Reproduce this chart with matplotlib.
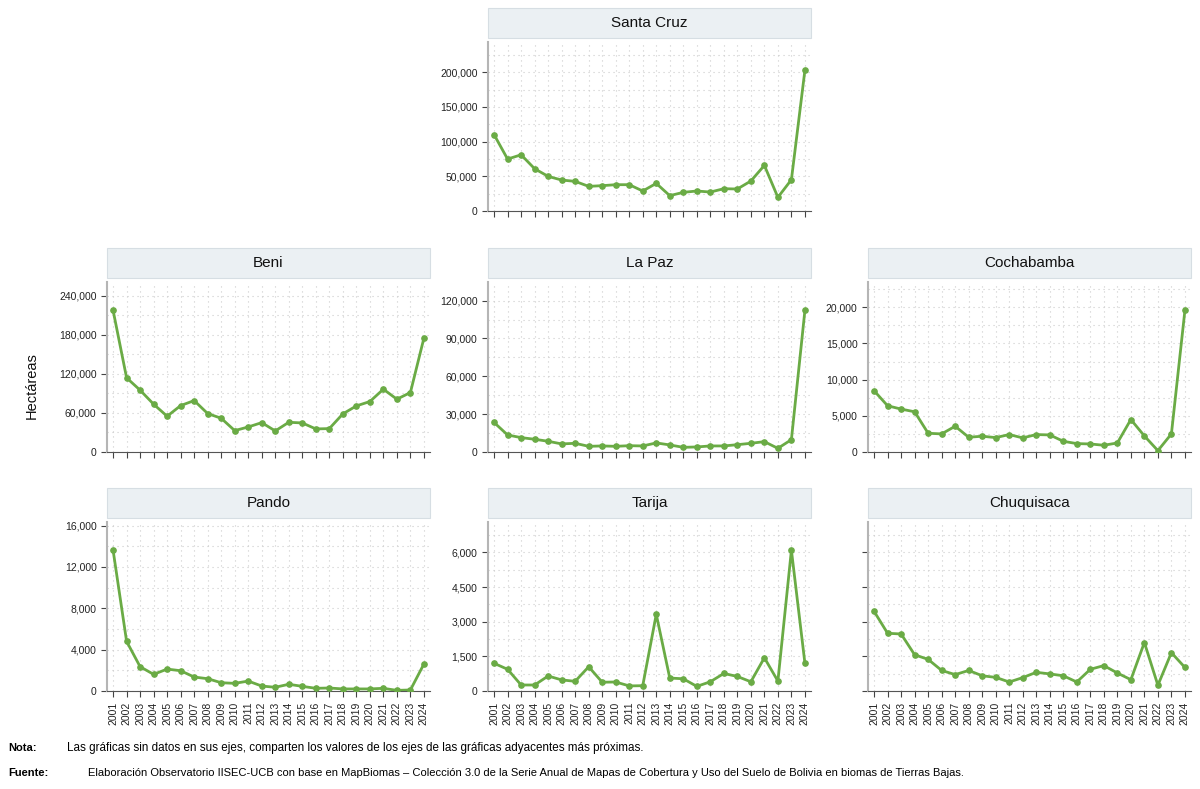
import matplotlib.pyplot as plt
import matplotlib.ticker as mticker
from matplotlib.patches import Rectangle

plt.rcParams['font.family'] = ['Liberation Sans Narrow', 'Liberation Sans', 'DejaVu Sans']

years = list(range(2001, 2025))

santa_cruz = [110000, 74800, 81000, 60900, 49900, 44600, 42700, 35500, 36500, 37900, 37900, 28800,
              39800, 22100, 26900, 28800, 27300, 32100, 31700, 43200, 65700, 19700, 45100, 202900]
beni = [217900, 114100, 95100, 73500, 55000, 71400, 79100, 59100, 51900, 32900, 38500, 45200,
        32400, 45700, 44700, 35500, 36000, 58600, 70900, 77600, 96600, 81200, 91500, 175200]
la_paz = [23400, 13500, 11400, 10100, 8500, 6400, 6900, 4500, 4800, 4500, 5000, 4800,
          7200, 5600, 3700, 4000, 4800, 4800, 5800, 6900, 8200, 2900, 9800, 112300]
cochabamba = [8470, 6390, 5930, 5560, 2590, 2500, 3560, 2040, 2180, 1990, 2410, 1950,
              2410, 2360, 1480, 1160, 1110, 930, 1250, 4490, 2220, 190, 2500, 19580]
pando = [13620, 4800, 2350, 1610, 2120, 1960, 1350, 1190, 800, 740, 960, 480,
         360, 650, 450, 260, 290, 200, 200, 200, 260, 60, 100, 2610]
tarija = [1200, 940, 260, 260, 650, 480, 420, 1050, 380, 390, 220, 230,
          3320, 560, 530, 200, 400, 760, 630, 400, 1440, 430, 6100, 1200]
chuquisaca = [3450, 2500, 2470, 1570, 1370, 890, 710, 890, 660, 590, 390, 580,
              810, 740, 660, 390, 940, 1100, 780, 490, 2100, 250, 1660, 1020]

W, H = 1200, 789
col_x = [107, 488, 868]
ax_w = 323
row_y = [(42, 211), (282, 452), (522, 691)]

# (name, data, col, row, tick step, show y labels, ylim source)
panels = [
    ('Santa Cruz', santa_cruz, 1, 0, 50000, True, santa_cruz),
    ('Beni', beni, 0, 1, 60000, True, beni),
    ('La Paz', la_paz, 1, 1, 30000, True, la_paz),
    ('Cochabamba', cochabamba, 2, 1, 5000, True, cochabamba),
    ('Pando', pando, 0, 2, 4000, True, pando),
    ('Tarija', tarija, 1, 2, 1500, True, tarija),
    ('Chuquisaca', chuquisaca, 2, 2, 1500, False, tarija),
]

green = '#6aab45'

fig = plt.figure(figsize=(12, 7.89), dpi=100)

for name, vals, c, r, step, show_y, ref in panels:
    top, bot = row_y[r]
    ax = fig.add_axes([col_x[c] / W, 1 - bot / H, ax_w / W, (bot - top) / H])
    ax.plot(years, vals, color=green, linewidth=2, marker='o', markersize=3.8, zorder=3)
    ax.set_xlim(2001 - 0.45, 2024 + 0.45)
    ax.set_ylim(0, max(ref) * 1.2)
    ax.set_xticks(years)
    ax.yaxis.set_major_locator(mticker.MultipleLocator(step))
    ax.yaxis.set_minor_locator(mticker.MultipleLocator(step / 2))
    ax.yaxis.set_major_formatter(mticker.FuncFormatter(lambda v, p: f'{v:,.0f}'))
    ax.grid(True, which='both', color='#cccccc', linestyle=(0, (1, 3.5)), linewidth=0.8)
    ax.set_axisbelow(True)
    for s in ['top', 'right']:
        ax.spines[s].set_visible(False)
    ax.spines['left'].set_color('#b5b5b5')
    ax.spines['left'].set_linewidth(1.5)
    ax.spines['bottom'].set_color('#555555')
    ax.spines['bottom'].set_linewidth(0.8)
    ax.tick_params(axis='both', which='major', length=4, width=0.8, color='#444444',
                   labelsize=7.5, labelcolor='#222222')
    ax.tick_params(axis='y', which='minor', length=0)
    if not show_y:
        ax.tick_params(axis='y', labelleft=False)
    if r == 2:
        ax.set_xticklabels([str(y) for y in years], rotation=90)
    else:
        ax.tick_params(axis='x', labelbottom=False)
    # facet strip
    h = bot - top
    ax.add_patch(Rectangle((0, 1 + 4 / h), 1, 30 / h, transform=ax.transAxes,
                           facecolor='#ebf0f3', edgecolor='#d6dee3', linewidth=0.8,
                           clip_on=False))
    ax.text(0.5, 1 + 19 / h, name, transform=ax.transAxes, ha='center', va='center',
            fontsize=11, color='#111111')

fig.text(32 / W, 1 - 386 / H, 'Hectáreas', rotation=90, ha='center', va='center',
         fontsize=10.5, color='#111111')

fig.text(8 / W, 1 - 748 / H, 'Nota:', fontsize=8, fontweight='bold', va='center')
fig.text(67 / W, 1 - 748 / H,
         'Las gráficas sin datos en sus ejes, comparten los valores de los ejes de las gráficas adyacentes más próximas.',
         fontsize=8.4, va='center')
fig.text(8 / W, 1 - 773 / H, 'Fuente:', fontsize=8, fontweight='bold', va='center')
fig.text(88 / W, 1 - 773 / H,
         'Elaboración Observatorio IISEC-UCB con base en MapBiomas – Colección 3.0 de la Serie Anual de Mapas de Cobertura y Uso del Suelo de Bolivia en biomas de Tierras Bajas.',
         fontsize=8, va='center')

fig.savefig('out.png', dpi=100, facecolor='white')
